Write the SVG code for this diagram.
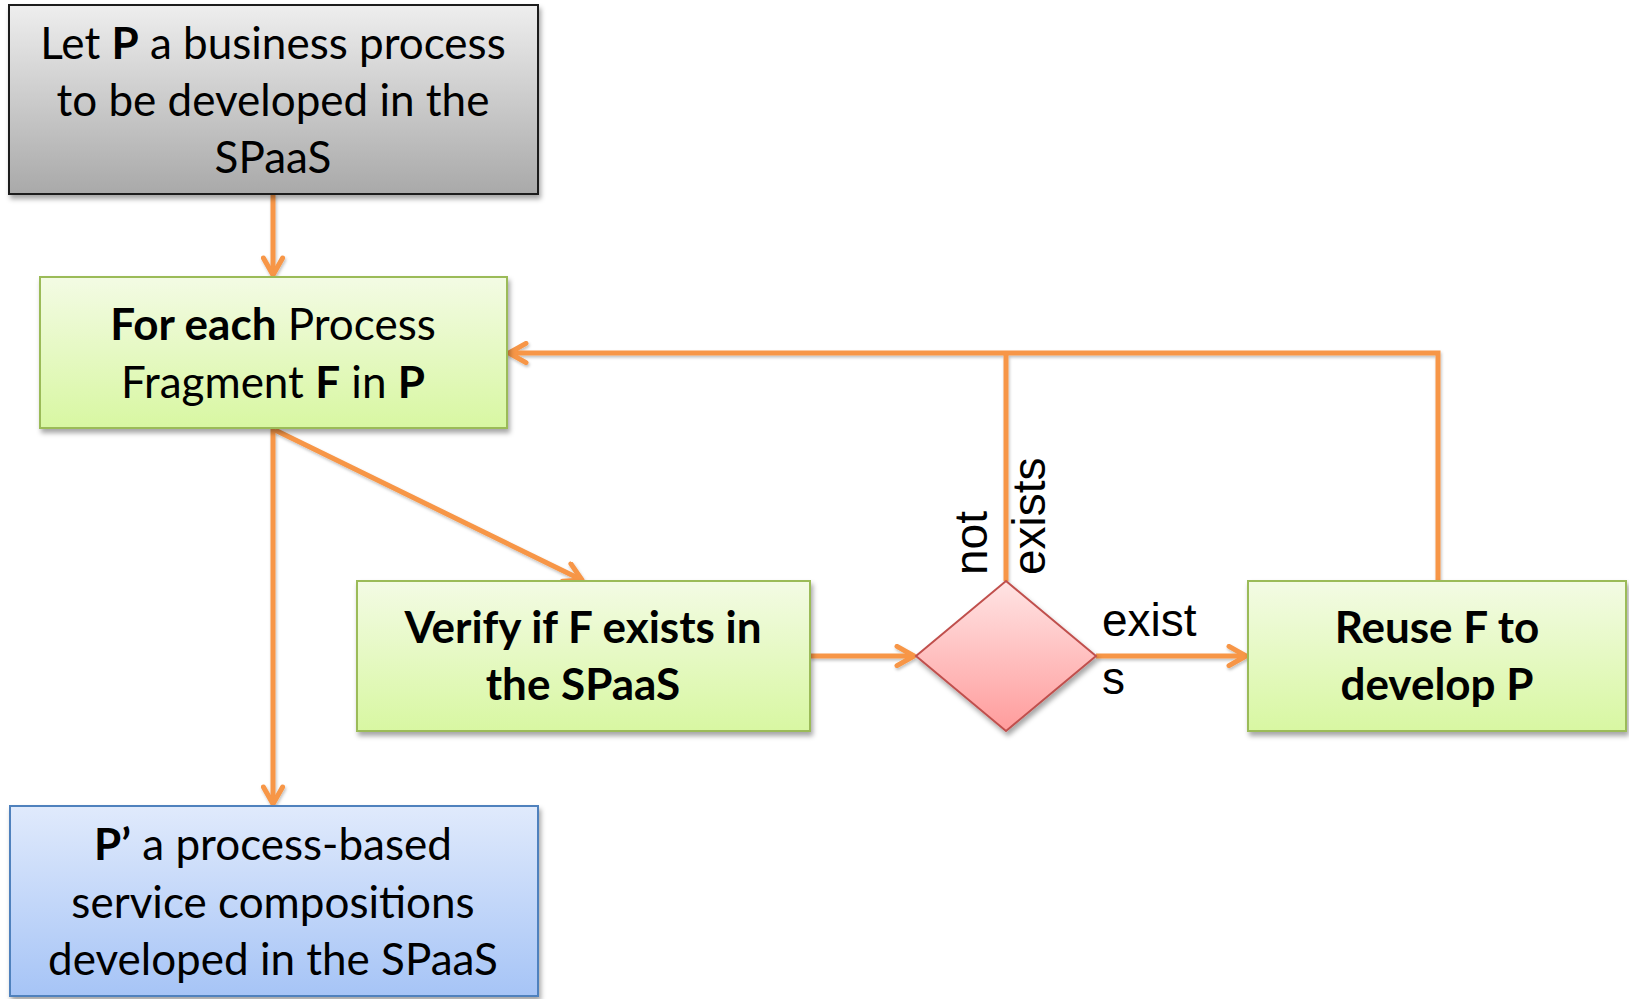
<svg xmlns="http://www.w3.org/2000/svg" width="1629" height="999" viewBox="0 0 1629 999">
<style>
.box{stroke-width:2}
.t{font-family:Lato,"Open Sans","Liberation Sans",sans-serif;font-size:44px;fill:#000;text-anchor:middle}
.b{font-weight:bold}
.lbl{font-family:"Liberation Sans",Arial,sans-serif;font-size:46px;fill:#000}
.c{fill:none;stroke:#f79646;stroke-width:5;stroke-linejoin:miter}
</style>
<defs>
<linearGradient id="gGray" x1="0" y1="0" x2="0" y2="1"><stop offset="0" stop-color="#eeeeee"/><stop offset="1" stop-color="#a9a9a9"/></linearGradient>
<linearGradient id="gGreen" x1="0" y1="0" x2="0" y2="1"><stop offset="0" stop-color="#f3fbe4"/><stop offset="1" stop-color="#d8f7a2"/></linearGradient>
<linearGradient id="gBlue" x1="0" y1="0" x2="0" y2="1"><stop offset="0" stop-color="#e0eafc"/><stop offset="1" stop-color="#a6c4f6"/></linearGradient>
<linearGradient id="gRed" x1="0" y1="0" x2="0" y2="1"><stop offset="0" stop-color="#ffe4e4"/><stop offset="1" stop-color="#ff9c9c"/></linearGradient>
<filter id="sh" x="-10%" y="-10%" width="120%" height="130%"><feDropShadow dx="2" dy="4" stdDeviation="2.5" flood-color="#000" flood-opacity="0.35"/></filter>
<filter id="lsh" x="-5%" y="-5%" width="110%" height="110%"><feDropShadow dx="1" dy="2" stdDeviation="1.5" flood-color="#000" flood-opacity="0.25"/></filter>
<marker id="ar" viewBox="0 0 12 12" refX="10.5" refY="6" markerWidth="24" markerHeight="24" markerUnits="userSpaceOnUse" orient="auto">
<path d="M2,1.2 L10.5,6 L2,10.8" fill="none" stroke="#f79646" stroke-width="2.5" stroke-linecap="round" stroke-linejoin="round"/>
</marker>
</defs>
<rect width="1629" height="999" fill="#fff"/>

<g id="connectors" filter="url(#lsh)">
<path class="c" d="M273,194 L273,275" marker-end="url(#ar)"/>
<path class="c" d="M1006,581 L1006,353"/>
<path class="c" d="M1438,581 L1438,353 L509,353" marker-end="url(#ar)"/>
<path class="c" d="M275,430 L582,580" marker-end="url(#ar)"/>
<path class="c" d="M273,428 L273,804" marker-end="url(#ar)"/>
<path class="c" d="M810,656 L914,656" marker-end="url(#ar)"/>
<path class="c" d="M1096,656 L1246,656" marker-end="url(#ar)"/>
</g>

<g id="start">
<rect class="box" x="9" y="5" width="529" height="189" fill="url(#gGray)" stroke="#1a1a1a" filter="url(#sh)"/>
<text class="t" x="273" y="59">Let <tspan class="b">P</tspan> a business process</text>
<text class="t" x="273" y="116">to be developed in the</text>
<text class="t" x="273" y="173">SPaaS</text>
</g>

<g id="foreach">
<rect class="box" x="40" y="277" width="467" height="151" fill="url(#gGreen)" stroke="#9bbb59" filter="url(#sh)"/>
<text class="t" x="273" y="340"><tspan class="b">For each</tspan> Process</text>
<text class="t" x="273" y="398">Fragment <tspan class="b">F</tspan> in <tspan class="b">P</tspan></text>
</g>

<g id="verify">
<rect class="box" x="357" y="581" width="453" height="150" fill="url(#gGreen)" stroke="#9bbb59" filter="url(#sh)"/>
<text class="t b" x="583" y="643">Verify if F exists in</text>
<text class="t b" x="583" y="700">the SPaaS</text>
</g>

<g id="decision">
<polygon points="1006,581 1096,656 1006,731 916,656" fill="url(#gRed)" stroke="#c0504d" stroke-width="2" filter="url(#sh)"/>
</g>

<g id="reuse">
<rect class="box" x="1248" y="581" width="378" height="150" fill="url(#gGreen)" stroke="#9bbb59" filter="url(#sh)"/>
<text class="t b" x="1437" y="643">Reuse F to</text>
<text class="t b" x="1437" y="700">develop P</text>
</g>

<g id="result">
<rect class="box" x="10" y="806" width="528" height="190" fill="url(#gBlue)" stroke="#4f81bd" filter="url(#sh)"/>
<text class="t" x="273" y="860"><tspan class="b">P’</tspan> a process-based</text>
<text class="t" x="273" y="918">service compositions</text>
<text class="t" x="273" y="975">developed in the SPaaS</text>
</g>

<g id="labels">
<text class="lbl" transform="translate(987,575) rotate(-90)">not</text>
<text class="lbl" transform="translate(1045,575) rotate(-90)">exists</text>
<text class="lbl" x="1102" y="636">exist</text>
<text class="lbl" x="1102" y="694">s</text>
</g>
</svg>
